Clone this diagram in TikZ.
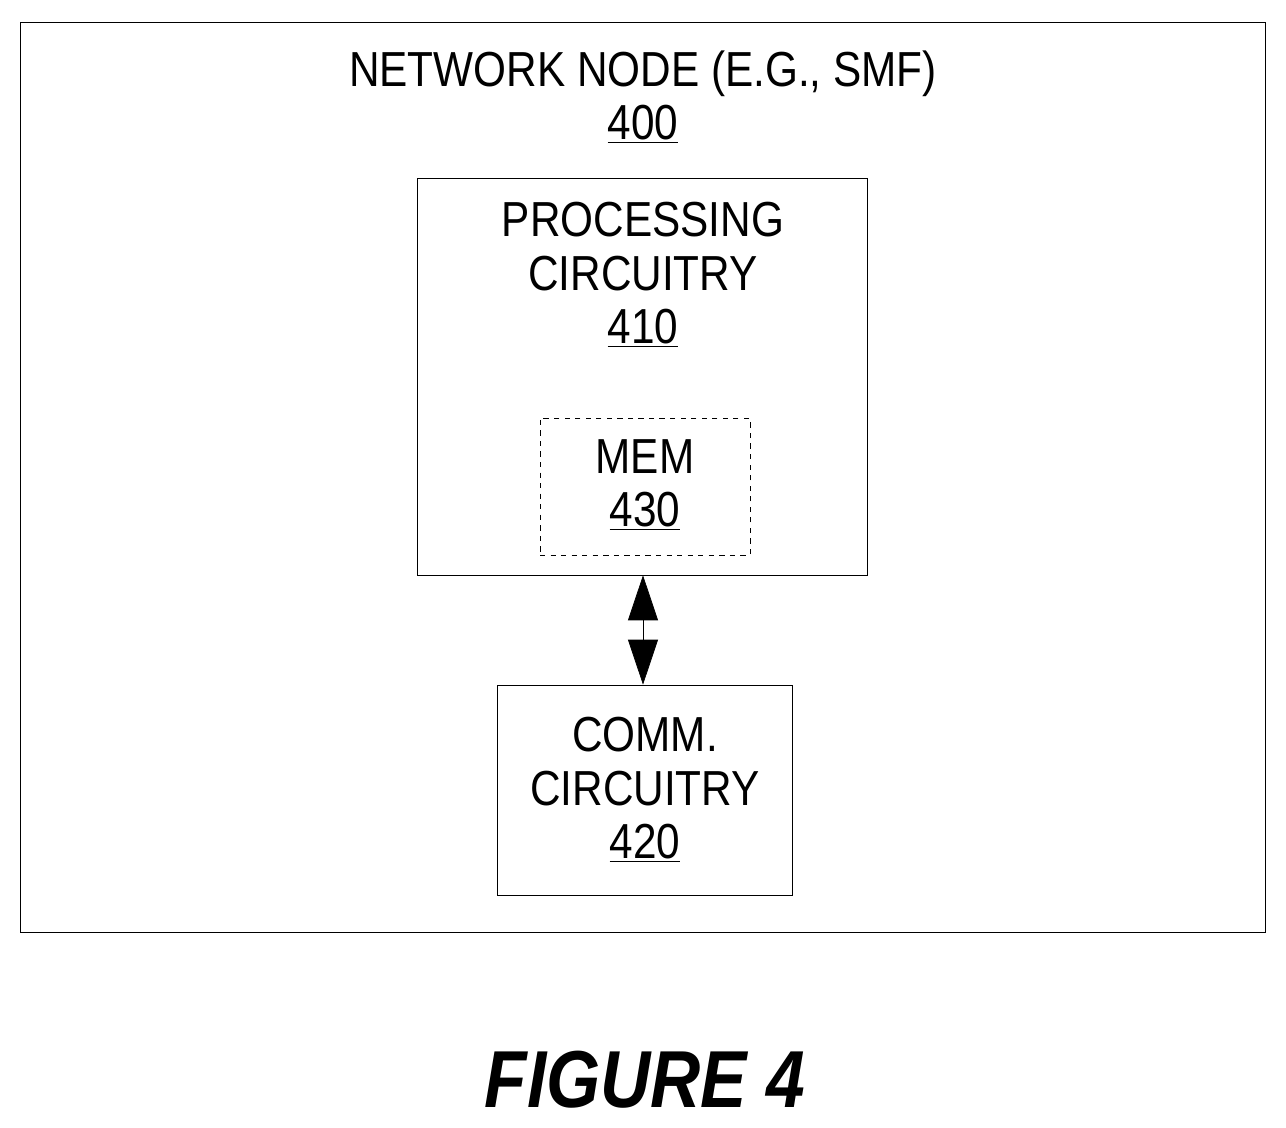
\documentclass[tikz,border=0pt]{standalone}
\usepackage{fontspec}
\setmainfont{Liberation Sans}[FakeStretch=0.86]
\usetikzlibrary{positioning, arrows.meta}
\begin{document}
\begin{tikzpicture}[x=0.02cm, y=-0.02cm,
			boxStyle/.style={draw, thin, inner sep=0pt},
			memStyle/.style={boxStyle, dashed},
			labelStyle/.style={align=center, font=\fontsize{28}{30.5}\selectfont, inner sep=0pt},
			arrowStyle/.style={{Triangle[length=9mm, width=6mm]}-{Triangle[length=9mm, width=6mm]}, thin},]
			
			\useasboundingbox (0,0) rectangle (1286,1127);
			
			\node[boxStyle, minimum width=24.9cm, minimum height=18.2cm] (node) at (642.5,477) {};
			\node[boxStyle, minimum width=9cm, minimum height=7.94cm] (proc) at (642,376.5) {};
			\node[memStyle, minimum width=4.2cm, minimum height=2.74cm] (mem) at (645,486.5) {};
			\node[boxStyle, minimum width=5.9cm, minimum height=4.2cm] (comm) at (644.5,790) {};
			
			\node[labelStyle] (nodeText) at (643,97) {NETWORK NODE (E.G., SMF)\\\underline{400}};
			\node[labelStyle] (procText) at (643,275) {PROCESSING\\CIRCUITRY\\\underline{410}};
			\node[labelStyle] (memText) at (645,485) {MEM\\\underline{430}};
			\node[labelStyle] (commText) at (645,790) {COMM.\\CIRCUITRY\\\underline{420}};
			
			\draw[arrowStyle] (proc.south -| 643,0) -- (comm.north -| 643,0);
			
			\node[font=\fontsize{46}{50}\selectfont\bfseries\itshape] (fig) at (645,1080) {FIGURE 4};
		\end{tikzpicture}
\end{document}
